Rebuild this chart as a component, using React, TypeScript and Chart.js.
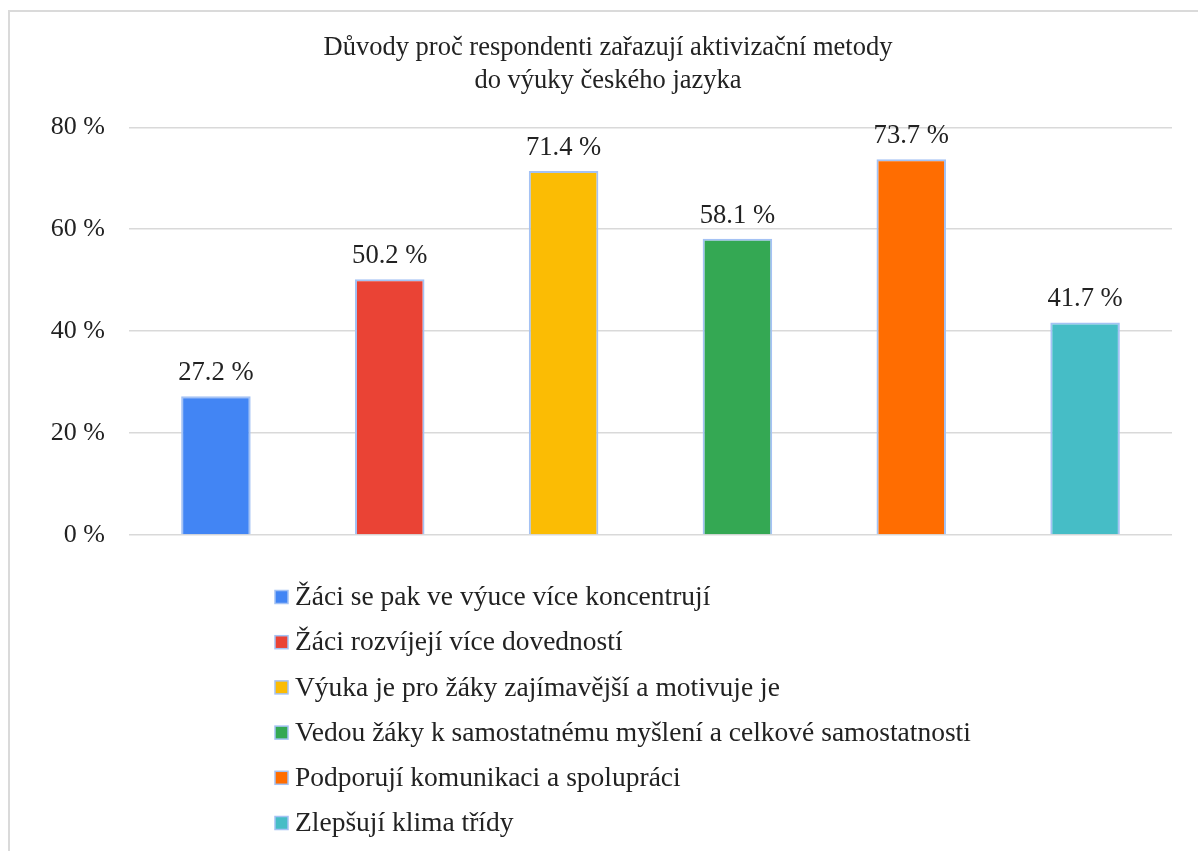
import React, { useEffect, useRef } from "react";
import { Chart, registerables } from "chart.js";

Chart.register(...registerables);

const titleLines = [
  "Důvody proč respondenti zařazují aktivizační metody",
  "do výuky českého jazyka",
];
const categories = [
  "Žáci se pak ve výuce více koncentrují",
  "Žáci rozvíjejí více dovedností",
  "Výuka je pro žáky zajímavější a motivuje je",
  "Vedou žáky k samostatnému myšlení a celkové samostatnosti",
  "Podporují komunikaci a spolupráci",
  "Zlepšují klima třídy",
];
const values = [27.2, 50.2, 71.4, 58.1, 73.7, 41.7];
const colors = ["#4285F4", "#EA4335", "#FBBC04", "#34A853", "#FF6D01", "#46BDC6"];
const yTicks = [0, 20, 40, 60, 80];

const FONT = '"Liberation Serif", "Times New Roman", serif';
const TEXT = "#222222";
const EDGE = "#a4c2f4";

const valueLabels = {
  id: "valueLabels",
  afterDatasetsDraw(chart: any) {
    const ctx = chart.ctx;
    const meta = chart.getDatasetMeta(0);
    ctx.save();
    ctx.font = `26.6px ${FONT}`;
    ctx.fillStyle = TEXT;
    ctx.textAlign = "center";
    ctx.textBaseline = "alphabetic";
    meta.data.forEach((bar: any, i: number) => {
      ctx.fillText(values[i].toFixed(1) + " %", bar.x, bar.y - 16);
    });
    ctx.restore();
  },
};

const listLegend = {
  id: "listLegend",
  afterDraw(chart: any) {
    const ctx = chart.ctx;
    const area = chart.chartArea;
    ctx.save();
    ctx.font = `27.5px ${FONT}`;
    ctx.textAlign = "left";
    ctx.textBaseline = "middle";
    categories.forEach((label, i) => {
      const cy = area.bottom + 62 + i * 45.2;
      const x = 275;
      ctx.fillStyle = colors[i];
      ctx.fillRect(x, cy - 6.5, 13, 13);
      ctx.strokeStyle = EDGE;
      ctx.lineWidth = 1.5;
      ctx.strokeRect(x, cy - 6.5, 13, 13);
      ctx.fillStyle = TEXT;
      ctx.fillText(label, x + 20, cy + 1);
    });
    ctx.restore();
  },
};

export default function App() {
  const ref = useRef<HTMLCanvasElement | null>(null);

  useEffect(() => {
    if (!ref.current) return;
    const chart = new Chart(ref.current, {
      type: "bar",
      data: {
        labels: categories,
        datasets: [
          {
            data: values,
            backgroundColor: colors,
            borderColor: EDGE,
            borderWidth: 2,
            barPercentage: 0.4,
            categoryPercentage: 1,
          },
        ],
      },
      options: {
        animation: false,
        responsive: false,
        layout: { padding: { left: 44, right: 26, top: 14, bottom: 316 } },
        plugins: {
          legend: { display: false },
          tooltip: { enabled: false },
          title: {
            display: true,
            text: titleLines,
            color: TEXT,
            font: { family: FONT, size: 26.5, weight: "normal", lineHeight: 1.25 },
            padding: { top: 17.5, bottom: 29.5 },
          },
        },
        scales: {
          x: { display: false, grid: { display: false } },
          y: {
            min: 0,
            max: 80,
            afterBuildTicks: (scale: any) => {
              scale.ticks = yTicks.map((v) => ({ value: v }));
            },
            afterFit: (scale: any) => {
              scale.width = 85;
            },
            ticks: {
              callback: (v: any) => v + " %",
              color: TEXT,
              font: { family: FONT, size: 26 },
              padding: 24,
            },
            grid: { color: "#d9d9d9", lineWidth: 1.5, drawTicks: false },
            border: { display: false },
          },
        },
      },
      plugins: [valueLabels, listLegend],
    } as any);
    return () => chart.destroy();
  }, []);

  return (
    <div>
      <div
        style={{
          position: "fixed",
          left: 8,
          top: 10,
          width: 1190,
          height: 841,
          borderTop: "2px solid #dadada",
          borderLeft: "2px solid #dadada",
          boxSizing: "border-box",
        }}
      />
      <canvas
        ref={ref}
        width={1198}
        height={851}
        style={{ position: "fixed", left: 0, top: 0, width: 1198, height: 851 }}
      />
    </div>
  );
}
